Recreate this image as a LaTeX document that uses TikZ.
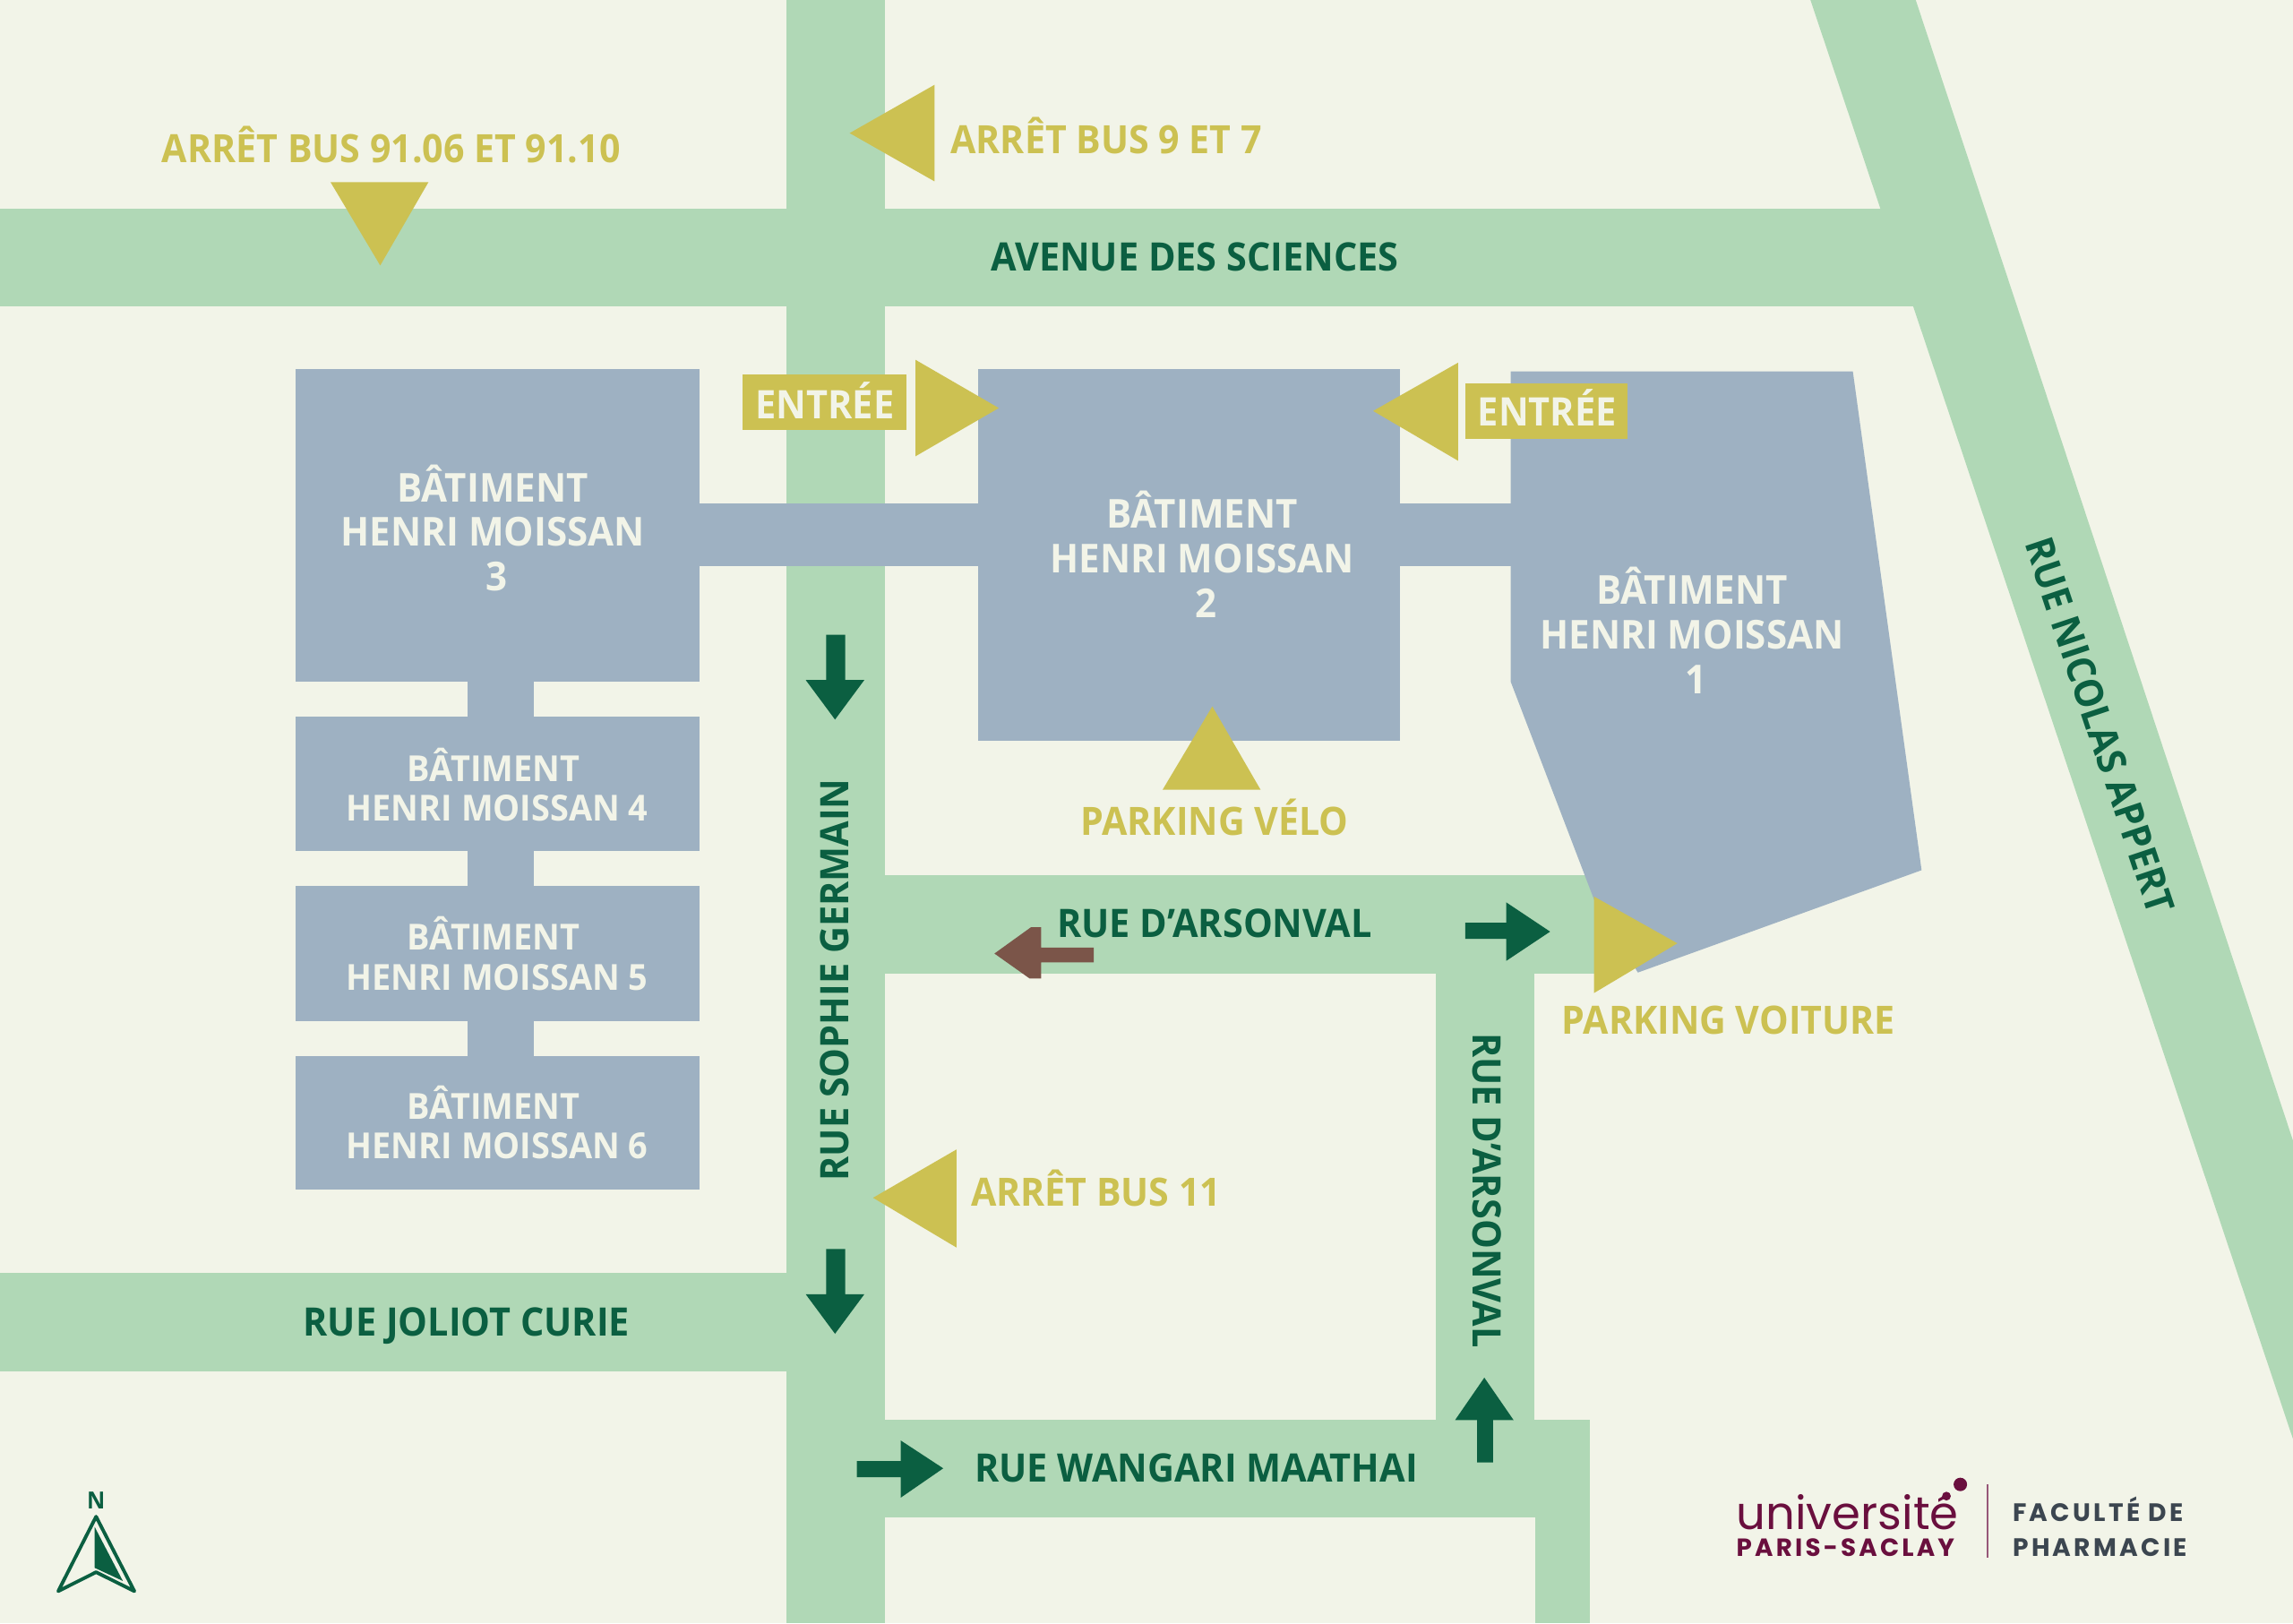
\documentclass[tikz,border=0pt]{standalone}
\usepackage{fontspec}
\setmainfont{Open Sans}[FakeStretch=0.945,BoldFont={Open Sans Bold}]
\newfontfamily\logofont{Poppins}
\newfontfamily\logospaced[LetterSpace=11.5]{Poppins}
\definecolor{bgc}{HTML}{F2F4E8}
\definecolor{roadc}{HTML}{B0D8B6}
\definecolor{bldc}{HTML}{9EB1C2}
\definecolor{yelc}{HTML}{CCC152}
\definecolor{grnc}{HTML}{0B5F41}
\definecolor{brnc}{HTML}{7B5549}
\definecolor{plumc}{HTML}{6A0F3E}
\definecolor{slatec}{HTML}{3C4650}
\tikzset{
 road/.style={fill=roadc},
 bld/.style={fill=bldc},
 tri/.style={fill=yelc},
 arrg/.style={fill=grnc},
 arrb/.style={fill=brnc},
 roadlbl/.style={anchor=base,text=grnc,font=\fontsize{12.46}{15}\selectfont\bfseries,inner sep=0pt},
 yellbl/.style={anchor=base,text=yelc,font=\fontsize{12.38}{15}\selectfont\bfseries,inner sep=0pt},
 entlbl/.style={anchor=base,text=bgc,font=\fontsize{12.5}{15}\selectfont\bfseries,inner sep=0pt},
 bldbig/.style={text=bgc,align=center,font=\fontsize{12.66}{14.2}\selectfont\bfseries,inner sep=0pt},
 bldsm/.style={text=bgc,align=center,font=\fontsize{11.4}{12.6}\selectfont\bfseries,inner sep=0pt},
}
\begin{document}
\begin{tikzpicture}[x=25.6cm/1568,y=-25.6cm/1568]
\path[use as bounding box,fill=bgc] (0,0) rectangle (1568,1109.85);
% roads
\fill[road] (0,142.5) rectangle (1320,209.5);
\fill[road] (538,0) rectangle (605,1110);
\fill[road] (1238,0) -- (1310,0) -- (1568,780) -- (1568,984) -- cycle;
\fill[road] (0,870.5) rectangle (538,937.5);
\fill[road] (605,971) rectangle (1087,1037.5);
\fill[road] (1050,1037) rectangle (1087,1110);
\fill[road] (982,665) rectangle (1049,971);
\fill[road] (605,598.5) rectangle (1095,665.5);
% buildings
\fill[bld] (320,466) rectangle (365,490);
\fill[bld] (320,582) rectangle (365,606);
\fill[bld] (320,698) rectangle (365,722);
\fill[bld] (478,344) rectangle (670,387);
\fill[bld] (957,344) rectangle (1033,387);
\fill[bld] (202,252.5) rectangle (478.5,466);
\fill[bld] (669,252.5) rectangle (957.5,506.5);
\fill[bld] (202,490) rectangle (478.5,582);
\fill[bld] (202,606) rectangle (478.5,698);
\fill[bld] (202,722) rectangle (478.5,813.5);
\fill[bld] (1033,254) -- (1267,254) -- (1314,595) -- (1120,665) -- (1090,615) -- (1033,466) -- cycle;
% yellow markers
\fill[tri] (226,124.5) -- (293,124.5) -- (260,181.5) -- cycle;
\fill[tri] (581,91) -- (639,58) -- (639,124) -- cycle;
\fill[tri] (508,256) rectangle (620,294);
\fill[tri] (626,246) -- (626,312) -- (683,279) -- cycle;
\fill[tri] (1002,262) rectangle (1113,300);
\fill[tri] (997,248) -- (997,315) -- (939,281) -- cycle;
\fill[tri] (795,540) -- (862,540) -- (829,483) -- cycle;
\fill[tri] (1090,613) -- (1090,679) -- (1147,645) -- cycle;
\fill[tri] (597,819) -- (654,786) -- (654,853) -- cycle;
% arrows
\fill[arrg] (565,434) -- (578,434) -- (578,465) -- (591,465) -- (571,492) -- (551,465) -- (565,465) -- cycle;
\fill[arrg] (565,854) -- (578,854) -- (578,885) -- (591,885) -- (571,912) -- (551,885) -- (565,885) -- cycle;
\fill[arrg] (1002,631) -- (1030,631) -- (1030,617) -- (1060,637) -- (1030,657) -- (1030,642) -- (1002,642) -- cycle;
\fill[arrg] (586,999) -- (616,999) -- (616,985) -- (645,1004) -- (616,1024) -- (616,1010) -- (586,1010) -- cycle;
\fill[arrg] (1010,1000) -- (1021,1000) -- (1021,971) -- (1035,971) -- (1015,942) -- (995,971) -- (1010,971) -- cycle;
\fill[arrb] (748,648) -- (712,648) -- (712,634) -- (705,634) -- (680,652) -- (704,669) -- (712,669) -- (712,658) -- (748,658) -- cycle;
% road labels
\node[roadlbl] (avenue) at (817,185) {AVENUE DES SCIENCES};
\node[roadlbl] (joliot) at (319,913.5) {RUE JOLIOT CURIE};
\node[roadlbl] (wangari) at (818,1013.5) {RUE WANGARI MAATHAI};
\node[roadlbl] (arsonh) at (830.5,641) {RUE D’ARSONVAL};
\node[roadlbl,anchor=center,rotate=-90] (arsonv) at (1017,814) {RUE D’ARSONVAL};
\node[roadlbl,anchor=center,rotate=90] (sophie) at (570.5,670) {RUE SOPHIE GERMAIN};
\node[roadlbl,anchor=center,rotate=-71.5] (nicolas) at (1436,496) {RUE NICOLAS APPERT};
% yellow labels
\node[yellbl] (bus91) at (267.5,111) {ARRÊT BUS 91.06 ET 91.10};
\node[yellbl] (bus9) at (756.5,105) {ARRÊT BUS 9 ET 7};
\node[yellbl] (velo) at (830.5,571) {PARKING VÉLO};
\node[yellbl] (voiture) at (1182,707) {PARKING VOITURE};
\node[yellbl] (bus11) at (749.5,825) {ARRÊT BUS 11};
\node[entlbl] (entg) at (564,286.5) {ENTRÉE};
\node[entlbl] (entd) at (1058,291) {ENTRÉE};
% building labels
\node[bldbig] (b3) at (337,361) {BÂTIMENT\\HENRI MOISSAN\\\kern2.7pt 3};
\node[bldbig] (b2) at (822,379) {BÂTIMENT\\HENRI MOISSAN\\\kern2.7pt 2};
\node[bldbig] (b1) at (1157,431) {BÂTIMENT\\HENRI MOISSAN\\\kern2.7pt 1};
\node[bldsm] (b4) at (340,536.5) {BÂTIMENT\kern2.3pt\\HENRI MOISSAN 4};
\node[bldsm] (b5) at (340,652) {BÂTIMENT\kern2.3pt\\HENRI MOISSAN 5};
\node[bldsm] (b6) at (340,767.5) {BÂTIMENT\kern2.3pt\\HENRI MOISSAN 6};
% north arrow
\node[text=grnc,font=\fontsize{7.5}{8}\selectfont\bfseries,inner sep=0pt] (north) at (65.7,1026) {N};
\draw[grnc,line width=1.1pt,line join=round] (65.7,1037) -- (39.8,1088) -- (65.7,1075) -- (91.9,1088) -- cycle;
\fill[grnc] (64.7,1044) -- (64.7,1072) -- (84,1081) -- cycle;
% logo
\node[anchor=base west,text=plumc,font=\logofont\fontsize{14.6}{18}\selectfont,inner sep=0pt] (univ) at (1187,1046) {université};
\node[anchor=base west,text=plumc,font=\logospaced\fontsize{7.9}{10}\selectfont\bfseries,inner sep=0pt] (paris) at (1187,1064) {PARIS-SACLAY};
\fill[plumc] (1340.5,1015) circle (4.6);
\fill[plumc] (1331,1023) circle (3);
\draw[plumc!70,line width=0.4pt] (1359,1015) -- (1359,1065);
\node[anchor=base west,text=slatec,font=\logospaced\fontsize{8}{10}\selectfont\bfseries,inner sep=0pt] (fac) at (1376,1040) {FACULTÉ DE};
\node[anchor=base west,text=slatec,font=\logospaced\fontsize{8}{10}\selectfont\bfseries,inner sep=0pt] (pharma) at (1376,1064) {PHARMACIE};
\end{tikzpicture}
\end{document}
